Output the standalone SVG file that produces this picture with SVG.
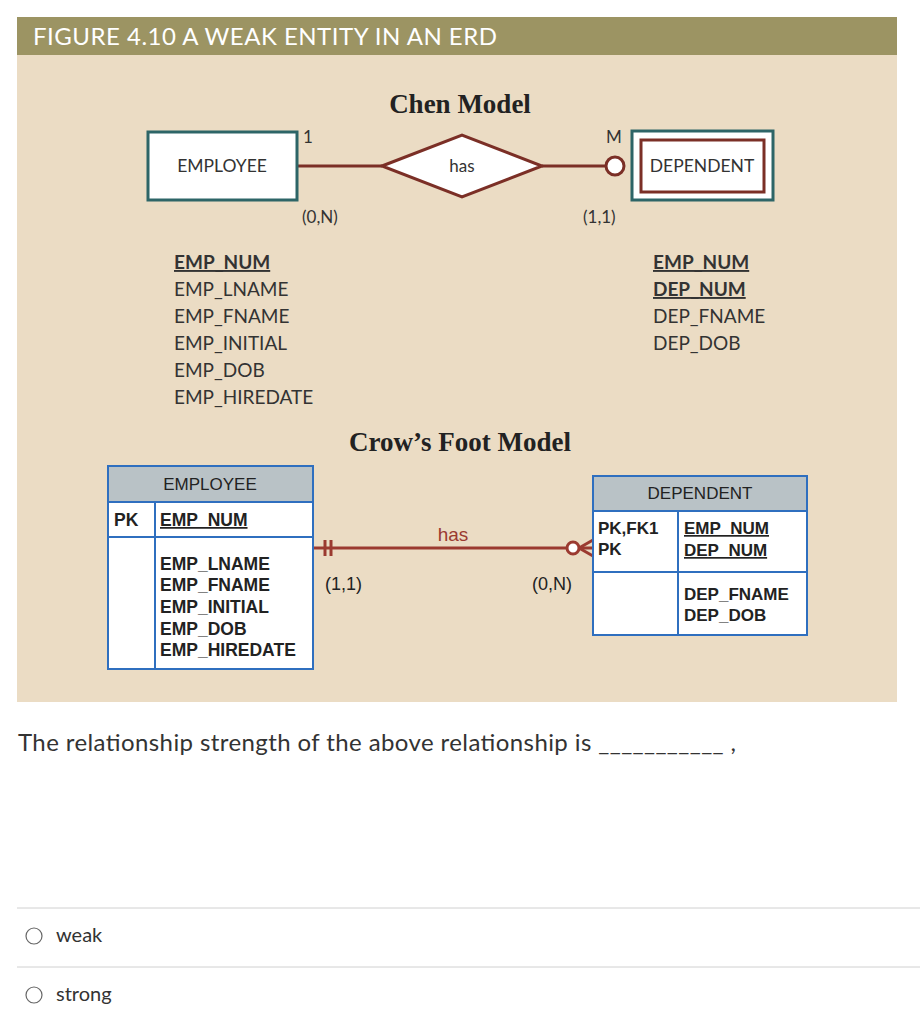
<svg xmlns="http://www.w3.org/2000/svg" width="920" height="1024" viewBox="0 0 920 1024">
<style>
.lato{font-family:Lato,"Liberation Sans",sans-serif;fill:#333}
.arial{font-family:"Liberation Sans",Arial,sans-serif;fill:#222}
.teal{fill:#fff;stroke:#2d6567;stroke-width:3}
.br{stroke:#7b2f26;stroke-width:3;fill:none}
.blue{stroke:#2f6fbf;stroke-width:2;fill:#fff}
.serif{font-family:"Liberation Serif",serif;font-weight:bold;fill:#222;font-size:27px;text-anchor:middle}
</style>
<rect width="920" height="1024" fill="#fff"/>
<rect x="17" y="17" width="880" height="38" fill="#9c9463"/>
<text x="33" y="45" font-family="Lato,'Liberation Sans',sans-serif" font-size="24" fill="#fff" textLength="464" lengthAdjust="spacing">FIGURE 4.10  A WEAK ENTITY IN AN ERD</text>
<rect x="17" y="55" width="880" height="647" fill="#ebdcc4"/>
<text class="serif" x="460" y="113">Chen Model</text>
<text class="serif" x="460" y="451">Crow’s Foot Model</text>
<g id="connectors">
<line class="br" x1="297" y1="166" x2="382" y2="166"/>
<line class="br" x1="542" y1="166" x2="606" y2="166"/>
<circle cx="615" cy="166" r="9" fill="#fff" stroke="#7b2f26" stroke-width="3"/>
<g stroke="#9b3a30" stroke-width="3" fill="none">
<line x1="313" y1="548" x2="567" y2="548"/>
<line x1="325" y1="540" x2="325" y2="556"/>
<line x1="331" y1="540" x2="331" y2="556"/>
<circle cx="573" cy="548" r="6" fill="#fff"/>
<line x1="579" y1="548" x2="593" y2="548"/>
<line x1="579" y1="548" x2="593" y2="540"/>
<line x1="579" y1="548" x2="593" y2="556"/>
</g>
<text x="453" y="541" font-family="'Liberation Sans',Arial,sans-serif" font-size="19" fill="#9b3a30" text-anchor="middle">has</text>
</g>
<g id="chen-employee">
<rect class="teal" x="148" y="132" width="149" height="68"/>
<text class="lato" x="222" y="172" font-size="17.5" text-anchor="middle">EMPLOYEE</text>
</g>
<g id="chen-has">
<polygon points="382,166 462,135 542,166 462,197" fill="#fff" stroke="#7b2f26" stroke-width="3"/>
<text class="lato" x="462" y="172" font-size="17" text-anchor="middle">has</text>
</g>
<g id="chen-dependent">
<rect class="teal" x="632" y="131" width="141" height="69"/>
<rect x="641" y="140" width="123" height="52" fill="#fff" stroke="#7b2f26" stroke-width="3"/>
<text class="lato" x="702" y="172" font-size="17.5" text-anchor="middle">DEPENDENT</text>
</g>
<g class="lato" font-size="17">
<text x="303" y="143">1</text>
<text x="606" y="143">M</text>
<text x="302" y="223">(0,N)</text>
<text x="583" y="223">(1,1)</text>
</g>
<g id="emp-attrs" class="lato" font-size="19">
<text x="174" y="269" font-weight="bold" text-decoration="underline">EMP_NUM</text>
<text x="174" y="296">EMP_LNAME</text>
<text x="174" y="323">EMP_FNAME</text>
<text x="174" y="350">EMP_INITIAL</text>
<text x="174" y="377">EMP_DOB</text>
<text x="174" y="404">EMP_HIREDATE</text>
</g>
<g id="dep-attrs" class="lato" font-size="19">
<text x="653" y="269" font-weight="bold" text-decoration="underline">EMP_NUM</text>
<text x="653" y="296" font-weight="bold" text-decoration="underline">DEP_NUM</text>
<text x="653" y="323">DEP_FNAME</text>
<text x="653" y="350">DEP_DOB</text>
</g>
<g id="cf-employee">
<rect class="blue" x="108" y="466" width="205" height="203"/>
<rect x="108" y="466" width="205" height="36" fill="#b9c2c6" stroke="#2f6fbf" stroke-width="2"/>
<line x1="108" y1="537" x2="313" y2="537" stroke="#2f6fbf" stroke-width="2"/>
<line x1="155" y1="502" x2="155" y2="669" stroke="#2f6fbf" stroke-width="2"/>
<text class="arial" x="210" y="490" font-size="17" text-anchor="middle">EMPLOYEE</text>
<g class="arial" font-size="17.5" font-weight="bold">
<text x="114" y="526">PK</text>
<text x="160" y="526" text-decoration="underline">EMP_NUM</text>
<text x="160" y="570">EMP_LNAME</text>
<text x="160" y="591">EMP_FNAME</text>
<text x="160" y="613">EMP_INITIAL</text>
<text x="160" y="635">EMP_DOB</text>
<text x="160" y="656">EMP_HIREDATE</text>
</g>
</g>
<g id="cf-dependent">
<rect class="blue" x="593" y="476" width="214" height="159"/>
<rect x="593" y="476" width="214" height="35" fill="#b9c2c6" stroke="#2f6fbf" stroke-width="2"/>
<line x1="593" y1="572" x2="807" y2="572" stroke="#2f6fbf" stroke-width="2"/>
<line x1="678" y1="511" x2="678" y2="635" stroke="#2f6fbf" stroke-width="2"/>
<text class="arial" x="700" y="499" font-size="17" text-anchor="middle">DEPENDENT</text>
<g class="arial" font-size="17" font-weight="bold">
<text x="598" y="534">PK,FK1</text>
<text x="598" y="555">PK</text>
<text x="684" y="534" text-decoration="underline">EMP_NUM</text>
<text x="684" y="556" text-decoration="underline">DEP_NUM</text>
<text x="684" y="600">DEP_FNAME</text>
<text x="684" y="621">DEP_DOB</text>
</g>
</g>
<g class="arial" font-size="18" fill="#333">
<text x="325" y="590">(1,1)</text>
<text x="532" y="590">(0,N)</text>
</g>
<text class="lato" x="18" y="751" font-size="24" fill="#2d3b45" textLength="718" lengthAdjust="spacing">The relationship strength of the above relationship is ___________ ,</text>
<line x1="17" y1="908" x2="920" y2="908" stroke="#d0d0d0"/>
<line x1="17" y1="967" x2="920" y2="967" stroke="#d0d0d0"/>
<circle cx="34" cy="936" r="8" fill="#fff" stroke="#666" stroke-width="1.2"/>
<text class="lato" x="56" y="942" font-size="20" fill="#2d3b45">weak</text>
<circle cx="34" cy="995" r="8" fill="#fff" stroke="#666" stroke-width="1.2"/>
<text class="lato" x="56" y="1001" font-size="20" fill="#2d3b45">strong</text>
</svg>
